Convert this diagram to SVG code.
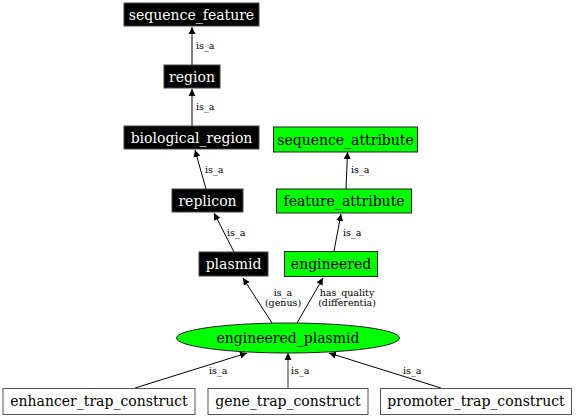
<svg xmlns="http://www.w3.org/2000/svg" width="576" height="418" viewBox="0 0 576 418" font-family="'DejaVu Serif', serif">
<style>
.blk rect{fill:#000;stroke:#444;stroke-width:1}
.blk text{fill:#fff}
.grn rect,.grn ellipse{fill:#00ff00;stroke:#222;stroke-width:1}
.wht rect{fill:#fff;stroke:#555;stroke-width:1}
text{font-family:'DejaVu Serif',serif;font-size:14px;text-anchor:middle}
text.lbl{font-size:9.5px;text-anchor:start;fill:#000}
text.lblc{font-size:9.5px;text-anchor:middle;fill:#000}
.e{stroke:#000;stroke-width:1;fill:none;marker-end:url(#ah)}
.eg{stroke:#999;stroke-width:2;fill:none;marker-end:url(#ah)}
</style>
<defs>
<marker id="ah" viewBox="0 0 10 10" refX="10" refY="5" markerWidth="7" markerHeight="10" markerUnits="userSpaceOnUse" orient="auto">
<path d="M0,0 L10,5 L0,10 z" fill="#000"/>
</marker>
</defs>
<rect width="576" height="418" fill="#fff"/>
<g id="connectors">
<line class="e" x1="192" y1="65" x2="192" y2="27"/>
<text class="lbl" x="196" y="49">is_a</text>
<line class="e" x1="192" y1="126" x2="192" y2="89"/>
<text class="lbl" x="196" y="110">is_a</text>
<line class="e" x1="206" y1="189" x2="195" y2="150"/>
<text class="lbl" x="205" y="173">is_a</text>
<line class="e" x1="234" y1="252" x2="214" y2="213"/>
<text class="lbl" x="227" y="236">is_a</text>
<line class="e" x1="272" y1="323" x2="243" y2="278"/>
<text class="lblc" x="283" y="296">is_a</text>
<text class="lblc" x="283" y="306">(genus)</text>
<line class="e" x1="297" y1="323" x2="323" y2="278"/>
<text class="lblc" x="347" y="296">has_quality</text>
<text class="lblc" x="347" y="306">(differentia)</text>
<line class="e" x1="334" y1="251" x2="341" y2="214"/>
<text class="lbl" x="343" y="236">is_a</text>
<line class="e" x1="346" y1="189" x2="347.5" y2="152"/>
<text class="lbl" x="351" y="173">is_a</text>
<line class="e" x1="135" y1="388" x2="247" y2="353"/>
<text class="lbl" x="209" y="374">is_a</text>
<line class="eg" x1="288" y1="388" x2="288" y2="353"/>
<text class="lbl" x="291" y="374">is_a</text>
<line class="e" x1="441" y1="388" x2="329" y2="353"/>
<text class="lbl" x="403" y="374">is_a</text>
</g>
<g id="sequence_feature" class="blk"><rect x="124" y="3" width="135" height="23"/><text x="191.5" y="19.5">sequence_feature</text></g>
<g id="region" class="blk"><rect x="164" y="65" width="56" height="23"/><text x="192" y="81.5">region</text></g>
<g id="biological_region" class="blk"><rect x="124" y="126" width="135" height="23"/><text x="191.5" y="142.5">biological_region</text></g>
<g id="replicon" class="blk"><rect x="172" y="189" width="71" height="23"/><text x="207.5" y="205.5">replicon</text></g>
<g id="plasmid" class="blk"><rect x="199" y="252" width="69" height="24"/><text x="233.5" y="269">plasmid</text></g>
<g id="sequence_attribute" class="grn"><rect x="273.5" y="127" width="144" height="25"/><text x="345.5" y="144.5">sequence_attribute</text></g>
<g id="feature_attribute" class="grn"><rect x="276.5" y="189" width="135" height="24"/><text x="344" y="206">feature_attribute</text></g>
<g id="engineered" class="grn"><rect x="284.5" y="251.5" width="93" height="25"/><text x="331" y="269">engineered</text></g>
<g id="engineered_plasmid" class="grn"><ellipse cx="288" cy="338" rx="111.5" ry="15"/><text x="288" y="343">engineered_plasmid</text></g>
<g id="enhancer_trap_construct" class="wht"><rect x="3" y="388.5" width="192" height="26"/><text x="99" y="406">enhancer_trap_construct</text></g>
<g id="gene_trap_construct" class="wht"><rect x="208" y="388.5" width="160" height="26"/><text x="288" y="406">gene_trap_construct</text></g>
<g id="promoter_trap_construct" class="wht"><rect x="380.5" y="388.5" width="191" height="26"/><text x="476" y="406">promoter_trap_construct</text></g>
</svg>
